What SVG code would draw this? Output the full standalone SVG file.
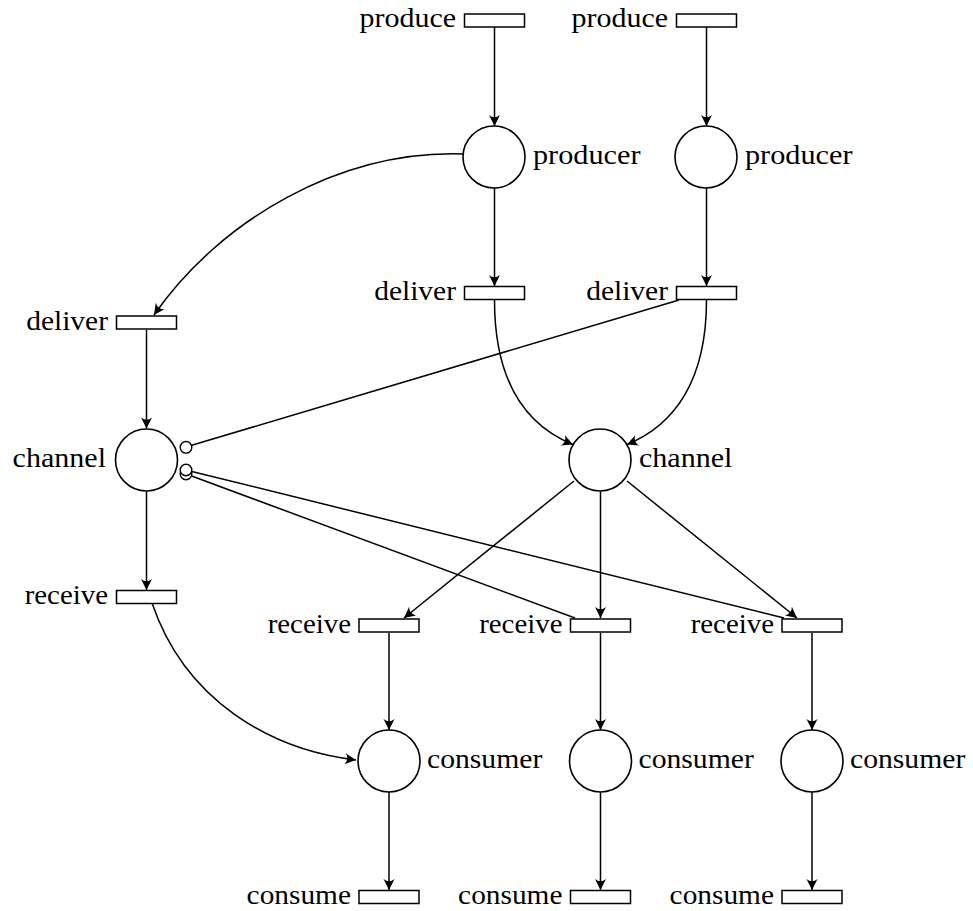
<svg xmlns="http://www.w3.org/2000/svg" width="973" height="911" viewBox="0 0 973 911">
<style>
  .t { fill: #fff; stroke: #000; stroke-width: 1.5; }
  .p { fill: #fff; stroke: #000; stroke-width: 1.6; }
  .inh { fill: #fff; stroke: #000; stroke-width: 1.4; }
  .a { fill: none; stroke: #000; stroke-width: 1.5; }
  .arr { marker-end: url(#ah); }
  text { font-family: "Liberation Serif", "Times New Roman", serif; font-size: 28px; fill: #000; }
  .l { text-anchor: end; }
</style>
<defs>
  <marker id="ah" markerUnits="userSpaceOnUse" markerWidth="14" markerHeight="12" viewBox="-11 -6 12 12" refX="0" refY="0" orient="auto">
    <path d="M0,0 L-11,-5.5 Q-6.5,0 -11,5.5 Z" fill="#000"/>
  </marker>
</defs>
<rect width="973" height="911" fill="#fff"/>

<g id="connectors">
  <path class="a arr" d="M494.5,27 L494.5,126"/>
  <path class="a arr" d="M706.5,27 L706.5,126"/>
  <path class="a arr" d="M494.5,188 L494.5,286"/>
  <path class="a arr" d="M706.5,188 L706.5,286"/>
  <path class="a arr" d="M463,154 C 340,150 220,220 154,315"/>
  <path class="a arr" d="M494.5,300 C 494.5,380 525,425 573,444.5"/>
  <path class="a arr" d="M706.5,300 C 706.5,380 675,425 627,444.5"/>
  <path class="a arr" d="M146.5,330 L146.5,428.5"/>
  <path class="a arr" d="M146.5,491.5 L146.5,590"/>
  <path class="a arr" d="M152,603 C 185,700 270,750 356,760"/>
  <path class="a arr" d="M574,481 L404,618"/>
  <path class="a arr" d="M600.5,491.5 L600.5,618"/>
  <path class="a arr" d="M627,481 L797,618"/>
  <path class="a arr" d="M389,633 L389,730"/>
  <path class="a arr" d="M600.5,633 L600.5,730"/>
  <path class="a arr" d="M812,633 L812,730"/>
  <path class="a arr" d="M389,792 L389,890"/>
  <path class="a arr" d="M600.5,792 L600.5,890"/>
  <path class="a arr" d="M812,792 L812,890"/>
  <path class="a" d="M679,300 L191.7,445.3"/>
  <path class="a" d="M575,618 L191.6,476"/>
  <path class="a" d="M784,618 L191.8,471.4"/>
  <circle class="inh" cx="186" cy="447.3" r="5.8"/>
  <circle class="inh" cx="186" cy="474" r="5.8"/>
  <circle class="inh" cx="186" cy="470" r="5.8"/>
</g>

<g id="produce1"><rect class="t" x="464.5" y="14" width="60" height="13"/><text class="l" x="456" y="27" textLength="96.5" lengthAdjust="spacingAndGlyphs">produce</text></g>
<g id="produce2"><rect class="t" x="676.5" y="14" width="60" height="13"/><text class="l" x="668" y="27" textLength="96.5" lengthAdjust="spacingAndGlyphs">produce</text></g>

<g id="producer1"><circle class="p" cx="494" cy="157" r="31"/><text x="533" y="164" textLength="107.5" lengthAdjust="spacingAndGlyphs">producer</text></g>
<g id="producer2"><circle class="p" cx="706" cy="157" r="31"/><text x="745" y="164" textLength="107.5" lengthAdjust="spacingAndGlyphs">producer</text></g>

<g id="deliver1"><rect class="t" x="464.5" y="286.5" width="60" height="13"/><text class="l" x="456" y="300" textLength="81.8" lengthAdjust="spacingAndGlyphs">deliver</text></g>
<g id="deliver2"><rect class="t" x="676.5" y="286.5" width="60" height="13"/><text class="l" x="668" y="300" textLength="81.8" lengthAdjust="spacingAndGlyphs">deliver</text></g>
<g id="deliver0"><rect class="t" x="116.5" y="316" width="60" height="13"/><text class="l" x="108" y="330" textLength="81.8" lengthAdjust="spacingAndGlyphs">deliver</text></g>

<g id="channel0"><circle class="p" cx="146.5" cy="460" r="31"/><text class="l" x="106" y="467" textLength="93.4" lengthAdjust="spacingAndGlyphs">channel</text></g>
<g id="channel1"><circle class="p" cx="600" cy="460" r="31"/><text x="639" y="467" textLength="93.4" lengthAdjust="spacingAndGlyphs">channel</text></g>

<g id="receive0"><rect class="t" x="116.5" y="590.5" width="60" height="13"/><text class="l" x="108" y="604" textLength="83.3" lengthAdjust="spacingAndGlyphs">receive</text></g>
<g id="receive1"><rect class="t" x="359" y="619" width="60" height="13"/><text class="l" x="351" y="633" textLength="83.3" lengthAdjust="spacingAndGlyphs">receive</text></g>
<g id="receive2"><rect class="t" x="570.5" y="619" width="60" height="13"/><text class="l" x="562.5" y="633" textLength="83.3" lengthAdjust="spacingAndGlyphs">receive</text></g>
<g id="receive3"><rect class="t" x="782" y="619" width="60" height="13"/><text class="l" x="774" y="633" textLength="83.3" lengthAdjust="spacingAndGlyphs">receive</text></g>

<g id="consumer1"><circle class="p" cx="389" cy="761" r="31"/><text x="427" y="768" textLength="115.3" lengthAdjust="spacingAndGlyphs">consumer</text></g>
<g id="consumer2"><circle class="p" cx="600.5" cy="761" r="31"/><text x="638.5" y="768" textLength="115.3" lengthAdjust="spacingAndGlyphs">consumer</text></g>
<g id="consumer3"><circle class="p" cx="812" cy="761" r="31"/><text x="850" y="768" textLength="115.3" lengthAdjust="spacingAndGlyphs">consumer</text></g>

<g id="consume1"><rect class="t" x="359" y="890.5" width="60" height="13"/><text class="l" x="351" y="904" textLength="104.4" lengthAdjust="spacingAndGlyphs">consume</text></g>
<g id="consume2"><rect class="t" x="570.5" y="890.5" width="60" height="13"/><text class="l" x="562.5" y="904" textLength="104.4" lengthAdjust="spacingAndGlyphs">consume</text></g>
<g id="consume3"><rect class="t" x="782" y="890.5" width="60" height="13"/><text class="l" x="774" y="904" textLength="104.4" lengthAdjust="spacingAndGlyphs">consume</text></g>
</svg>
